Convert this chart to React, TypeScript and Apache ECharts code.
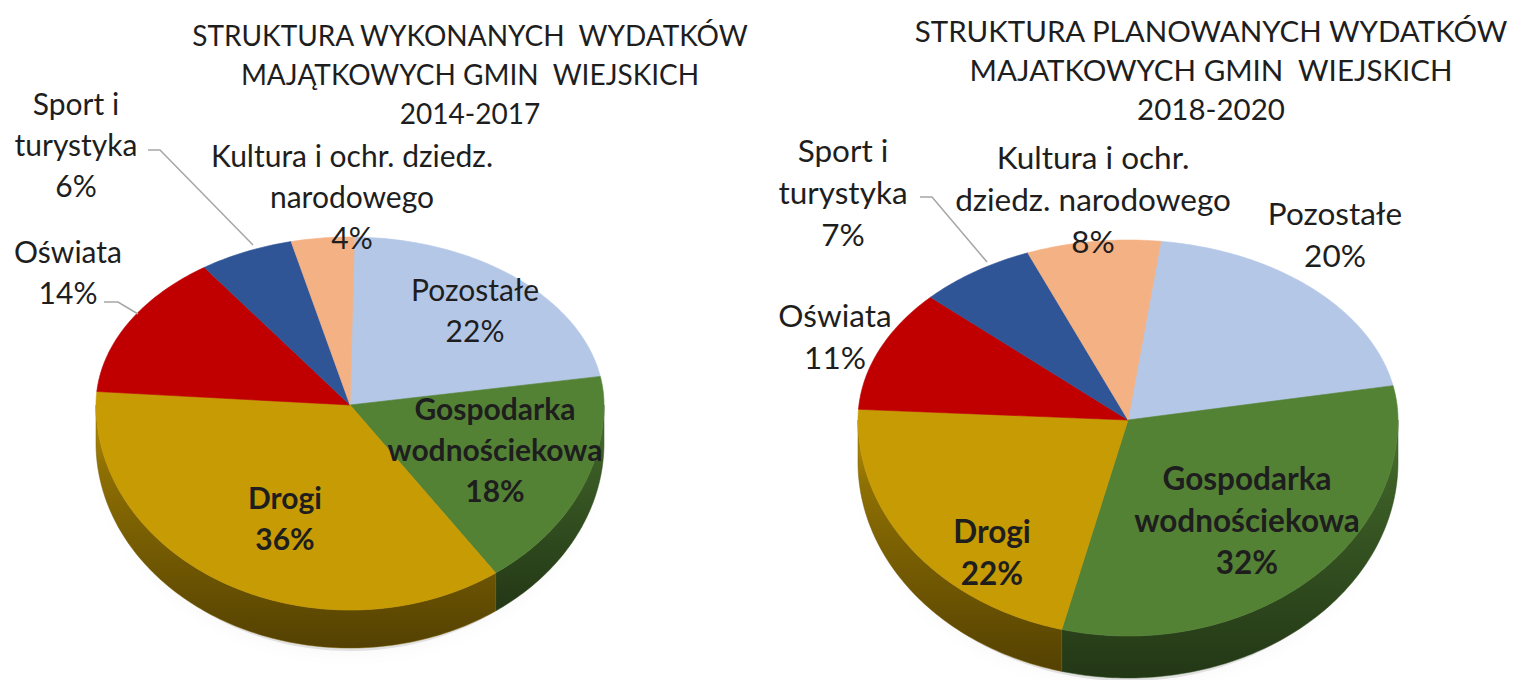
import React, { useEffect, useRef } from "react";
import * as echarts from "echarts";

// ---- data ----
const categories = [
  "Pozostałe",
  "Gospodarka wodnościekowa",
  "Drogi",
  "Oświata",
  "Sport i turystyka",
  "Kultura i ochr. dziedz. narodowego",
];
const leftValues = [22, 18, 36, 14, 6, 4];
const rightValues = [20, 32, 22, 11, 7, 8];
const leftLabelNames = [
  "Pozostałe",
  "Gospodarka\nwodnościekowa",
  "Drogi",
  "Oświata",
  "Sport i\nturystyka",
  "Kultura i ochr. dziedz.\nnarodowego",
];
const rightLabelNames = [
  "Pozostałe",
  "Gospodarka\nwodnościekowa",
  "Drogi",
  "Oświata",
  "Sport i\nturystyka",
  "Kultura i ochr.\ndziedz. narodowego",
];
const leftTitle = ["STRUKTURA WYKONANYCH  WYDATKÓW", "MAJĄTKOWYCH GMIN  WIEJSKICH", "2014-2017"];
const rightTitle = ["STRUKTURA PLANOWANYCH WYDATKÓW", "MAJATKOWYCH GMIN  WIEJSKICH", "2018-2020"];

// ---- styles / layout ----
const sliceColors = ["#b4c7e7", "#548235", "#c79b04", "#c00000", "#2f5597", "#f4b183"];
const boldSlices = [false, true, true, false, false, false];
const FONT = "Lato, 'Open Sans', sans-serif";

const leftGeo = { cx: 350, cy: 405, rx: 254, ryTop: 168, ryBot: 205, depth: 38, offset: 1 };
const rightGeo = { cx: 1128, cy: 420, rx: 270, ryTop: 180, ryBot: 216, depth: 42, offset: 7 };

const leftLabelPos = [
  [475, 309],
  [495, 449],
  [285, 517],
  [68, 271],
  [76, 144],
  [352, 196],
];
const rightLabelPos = [
  [1335, 234],
  [1247, 520],
  [992, 552],
  [835, 336],
  [843, 192],
  [1093, 199],
];

function shade(hex: string, f: number): string {
  const n = parseInt(hex.slice(1), 16);
  const r = Math.round(((n >> 16) & 255) * f);
  const g = Math.round(((n >> 8) & 255) * f);
  const b = Math.round((n & 255) * f);
  return `rgb(${r},${g},${b})`;
}

function makeRender(values: number[], geo: any) {
  const total = values.reduce((a, b) => a + b, 0);
  const pt = (deg: number) => {
    const t = (deg * Math.PI) / 180;
    const c = Math.cos(t);
    return [geo.cx + geo.rx * Math.sin(t), geo.cy - c * (c >= 0 ? geo.ryTop : geo.ryBot)];
  };
  const arc = (s: number, e: number) => {
    const n = Math.max(2, Math.ceil(e - s));
    const pts: number[][] = [];
    for (let k = 0; k <= n; k++) pts.push(pt(s + ((e - s) * k) / n));
    return pts;
  };
  return (params: any, api: any) => {
    const i = params.dataIndex;
    let before = 0;
    for (let j = 0; j < i; j++) before += values[j];
    const v = api.value(0);
    const a0 = geo.offset + (before / total) * 360;
    const a1 = a0 + (v / total) * 360;
    const color = sliceColors[i];
    const children: any[] = [];
    const fronts = [
      [90, 270],
      [450, 630],
    ];
    for (const [fs, fe] of fronts) {
      const s = Math.max(a0, fs);
      const e = Math.min(a1, fe);
      if (e > s) {
        const top = arc(s, e);
        const bottom = top.map((p) => [p[0], p[1] + geo.depth]).reverse();
        children.push({
          type: "polygon",
          shape: { points: [...top, ...bottom] },
          style: {
            fill: new echarts.graphic.LinearGradient(0, 0, 0, 1, [
              { offset: 0, color: shade(color, 0.95) },
              { offset: 0.25, color: shade(color, 0.72) },
              { offset: 1, color: shade(color, 0.42) },
            ]),
            stroke: shade(color, 0.6),
            lineWidth: 0.5,
          },
        });
      }
    }
    children.push({
      type: "polygon",
      shape: { points: [[geo.cx, geo.cy], ...arc(a0, a1)] },
      style: { fill: color, stroke: color, lineWidth: 0.6 },
    });
    return { type: "group", children };
  };
}

function labelGraphics(values: number[], names: string[], pos: number[][], size: number, lh: number) {
  return values.map((v, i) => ({
    type: "text",
    z: 10,
    x: pos[i][0],
    y: pos[i][1],
    style: {
      text: `${names[i]}\n${v}%`,
      fill: "#1e1e1e",
      font: `${boldSlices[i] ? "bold " : ""}${size}px ${FONT}`,
      align: "center",
      verticalAlign: "middle",
      lineHeight: lh,
    },
  }));
}

function titleGraphics(lines: string[], cx: number, y0: number, size: number) {
  return [
    {
      type: "text",
      z: 10,
      x: cx,
      y: y0,
      style: {
        text: lines.join("\n"),
        fill: "#1e1e1e",
        font: `${size}px ${FONT}`,
        align: "center",
        verticalAlign: "middle",
        lineHeight: 39,
      },
    },
  ];
}

function shadowEllipse(geo: any) {
  return {
    type: "ellipse",
    z: 0,
    shape: { cx: geo.cx, cy: geo.cy + geo.depth + 8, rx: geo.rx - 10, ry: geo.ryBot - 5 },
    style: {
      fill: "rgba(0,0,0,0.10)",
      shadowBlur: 18,
      shadowColor: "rgba(0,0,0,0.35)",
    },
  };
}

const leaderStyle = { stroke: "#a6a6a6", lineWidth: 1.5, fill: "none" };

export default function App() {
  const ref = useRef<HTMLDivElement>(null);
  useEffect(() => {
    document.body.style.margin = "0";
    const chart = echarts.init(ref.current!, undefined, { renderer: "svg" });
    chart.setOption({
      animation: false,
      backgroundColor: "#ffffff",
      series: [
        {
          type: "custom",
          name: "2014-2017",
          coordinateSystem: "none",
          z: 2,
          renderItem: makeRender(leftValues, leftGeo),
          data: leftValues.map((v, i) => ({ name: categories[i], value: [v] })),
        },
        {
          type: "custom",
          name: "2018-2020",
          coordinateSystem: "none",
          z: 2,
          renderItem: makeRender(rightValues, rightGeo),
          data: rightValues.map((v, i) => ({ name: categories[i], value: [v] })),
        },
      ],
      graphic: [
        shadowEllipse(leftGeo),
        shadowEllipse(rightGeo),
        ...titleGraphics(leftTitle, 470, 74, 28),
        ...titleGraphics(rightTitle, 1211, 69, 29.5),
        ...labelGraphics(leftValues, leftLabelNames, leftLabelPos, 30, 41),
        ...labelGraphics(rightValues, rightLabelNames, rightLabelPos, 31.5, 42),
        { type: "polyline", z: 9, shape: { points: [[148, 150], [160, 150], [253, 245]] }, style: leaderStyle },
        { type: "polyline", z: 9, shape: { points: [[104, 302], [118, 302], [138, 314]] }, style: leaderStyle },
        { type: "polyline", z: 9, shape: { points: [[920, 197], [932, 197], [987, 262]] }, style: leaderStyle },
      ],
    });
    return () => chart.dispose();
  }, []);
  return <div ref={ref} style={{ width: 1526, height: 680 }} />;
}
